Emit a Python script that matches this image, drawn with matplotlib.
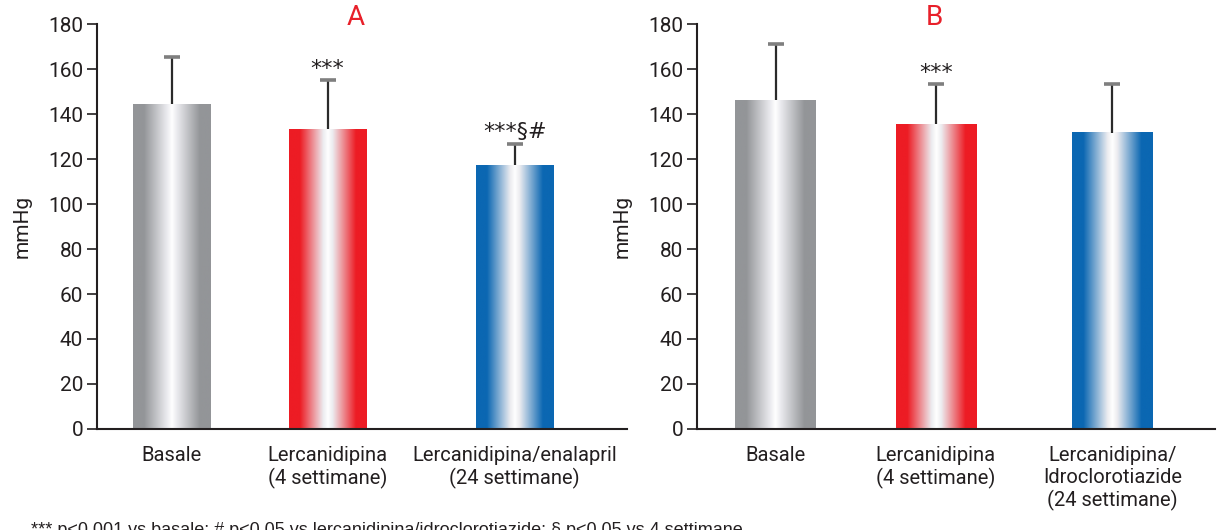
import numpy as np
import matplotlib
matplotlib.use('Agg')
import matplotlib.pyplot as plt
from matplotlib.colors import LinearSegmentedColormap

# data
labels_a = ['Basale', 'Lercanidipina\n(4 settimane)', 'Lercanidipina/enalapril\n(24 settimane)']
means_a = [144.3, 133.3, 117.3]
sd_a = [21.0, 21.7, 9.4]
stars_a = ['', '***', '***§#']

labels_b = ['Basale', 'Lercanidipina\n(4 settimane)', 'Lercanidipina/\nIdroclorotiazide\n(24 settimane)']
means_b = [146.2, 135.5, 131.6]
sd_b = [24.8, 17.8, 21.7]
stars_b = ['', '***', '']

yticks = [0, 20, 40, 60, 80, 100, 120, 140, 160, 180]
footnote = ('*** p<0.001 vs basale; # p<0.05 vs lercanidipina/idroclorotiazide; '
            '§ p<0.05 vs 4 settimane')

bar_colors = ['#939598', '#ed1c24', '#0b67b2']
cond_font = ['Roboto', 'DejaVu Sans']
text_color = '#231f20'


def gradient_cmap(c):
    return LinearSegmentedColormap.from_list(
        'g', [(0, c), (0.14, c), (0.44, '#ececf0'), (0.5, 'white'),
              (0.56, '#ececf0'), (0.86, c), (1, c)])


def draw_panel(ax, pos, means, sd, labels, stars, title, title_x, xlim):
    bars = ax.bar(pos, means, width=0.5, color='none', zorder=2)
    grad = np.linspace(0, 1, 256).reshape(1, -1)
    for b, c in zip(bars, bar_colors):
        x0, y0 = b.get_x(), b.get_y()
        ax.imshow(grad, cmap=gradient_cmap(c), aspect='auto', zorder=2,
                  extent=[x0, x0 + b.get_width(), y0, y0 + b.get_height()])
    eb = ax.errorbar(pos, means, yerr=[np.zeros(len(sd)), sd], fmt='none',
                     ecolor='#2b2b2b', elinewidth=1.6, capsize=5.5, zorder=3)
    # only the upper cap is drawn in the original
    eb[1][0].set_visible(False)
    eb[1][1].set_markeredgecolor('#7f7f7f')
    eb[1][1].set_markeredgewidth(2.6)
    for p, m, s, st in zip(pos, means, sd, stars):
        if st:
            ax.text(p, m + s + 2.5, st, ha='center', va='baseline', fontsize=16,
                    color=text_color, family='DejaVu Sans')
    ax.set_xlim(*xlim)
    ax.set_ylim(0, 180)
    ax.set_yticks(yticks)
    ax.set_xticks(pos)
    ax.set_xticklabels(labels, family=cond_font, fontsize=14.5, color=text_color,
                       linespacing=1.2)
    for t in ax.get_yticklabels():
        t.set_family(cond_font)
        t.set_fontsize(15)
        t.set_color(text_color)
    ax.tick_params(axis='x', length=0, pad=12)
    ax.tick_params(axis='y', length=7, width=1.2, pad=3, color='#231f20')
    ax.set_ylabel('mmHg', family=cond_font, fontsize=15, color=text_color, labelpad=12)
    for s in ['top', 'right']:
        ax.spines[s].set_visible(False)
    for s in ['left', 'bottom']:
        ax.spines[s].set_linewidth(1.5)
        ax.spines[s].set_color('#231f20')
        ax.spines[s].set_zorder(4)
    ax.text(title_x, 1.015, title, transform=ax.transAxes, ha='center', va='center',
            color='#e8202a', fontsize=20, family=cond_font)


fig = plt.figure(figsize=(12.21, 5.30), dpi=100)
ax_a = fig.add_axes([0.0794, 0.1906, 0.434, 0.764])
ax_b = fig.add_axes([0.5708, 0.1906, 0.4243, 0.764])

draw_panel(ax_a, [0, 1, 2.2], means_a, sd_a, labels_a, stars_a, 'A', 0.489, (-0.48, 2.92))
draw_panel(ax_b, [0, 1, 2.1], means_b, sd_b, labels_b, stars_b, 'B', 0.459, (-0.49, 2.74))

fig.text(0.025, 0.016, footnote, ha='left', va='top', fontsize=13,
         family='Liberation Sans', color=text_color)

fig.savefig('out.png', dpi=100)
